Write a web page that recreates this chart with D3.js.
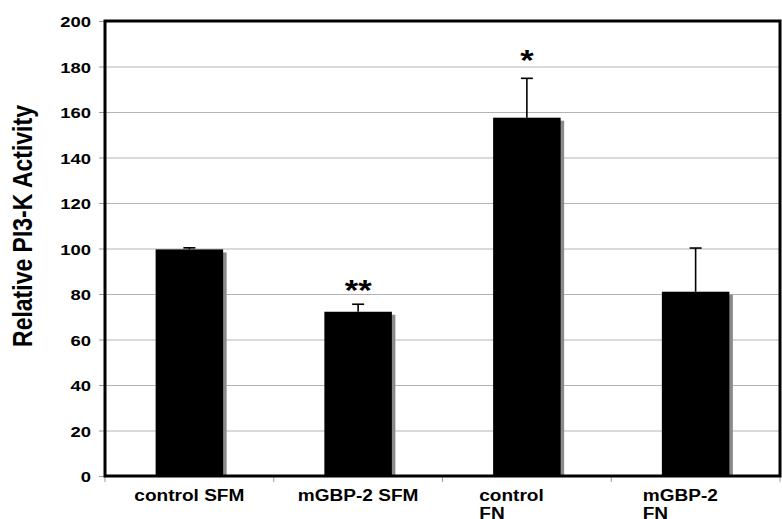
<!DOCTYPE html>
<meta charset="utf-8">
<html>
<head>
<style>
  body { margin: 0; background: #fff; }
  text { font-family: "Liberation Sans", Arial, Helvetica, sans-serif; font-weight: bold; fill: #000; }
</style>
</head>
<body>
<div id="chart"></div>
<script src="https://d3js.org/d3.v7.min.js"></script>
<script>

  // data
  var categories = ["control SFM", "mGBP-2 SFM", "control FN", "mGBP-2 FN"];
  var labelLines = [["control SFM"], ["mGBP-2 SFM"], ["control", "FN"], ["mGBP-2", "FN"]];
  var values = [99.6, 72.2, 157.5, 81.0];
  var errors = [0.7, 3.3, 17.3, 19.2];
  var stars = ["", "**", "*", ""];
  var starAt = [0, 77.4, 178.5, 0];
  var yTicks = [0, 20, 40, 60, 80, 100, 120, 140, 160, 180, 200];

  // the picture is a bit stretched sideways
  var sx = 1.19;

  var margin = {top: 21, right: 2, bottom: 43, left: 105},
      width = 782 - margin.left - margin.right,
      height = 519 - margin.top - margin.bottom;

  var svg = d3.select("#chart")
    .append("svg")
      .attr("width", 782)
      .attr("height", 519)
    .append("g")
      .attr("transform", "translate(" + margin.left + "," + margin.top + ")");

  var x = d3.scaleBand()
    .domain(categories)
    .range([0, width])
    .paddingInner(0.6)
    .paddingOuter(0.3);

  var y = d3.scaleLinear()
    .domain([0, 200])
    .range([height, 0]);

  // gridlines
  svg.append("g")
    .call(d3.axisLeft(y).tickValues(yTicks).tickSize(-width).tickFormat(""))
    .call(function(g) {
      g.select(".domain").remove();
      g.selectAll("line").attr("stroke", "#b4b4b4").attr("stroke-width", 1);
    });

  // y axis ticks + labels
  svg.append("g")
    .call(d3.axisLeft(y).tickValues(yTicks).tickSize(6).tickPadding(0))
    .call(function(g) {
      g.select(".domain").remove();
      g.selectAll("line").attr("stroke", "#999");
      g.selectAll("text")
        .attr("x", -14 / sx)
        .attr("dy", "0.36em")
        .attr("transform", "scale(" + sx + ",1)")
        .style("font-size", "15.5px");
    });

  // x axis tick marks at category boundaries
  var step = x.step();
  svg.append("g")
    .selectAll("line")
    .data(d3.range(categories.length + 1))
    .enter().append("line")
      .attr("x1", function(i) { return x.range()[0] + i * step; })
      .attr("x2", function(i) { return x.range()[0] + i * step; })
      .attr("y1", height)
      .attr("y2", height + 6)
      .attr("stroke", "#999");

  // bar shadows
  svg.selectAll(".shadow")
    .data(values)
    .enter().append("rect")
      .attr("class", "shadow")
      .attr("x", function(d, i) { return x(categories[i]) + 3.5; })
      .attr("y", function(d) { return y(d) + 3; })
      .attr("width", x.bandwidth())
      .attr("height", function(d) { return height - y(d) - 3; })
      .attr("fill", "#8a8a8a");

  // bars
  svg.selectAll(".bar")
    .data(values)
    .enter().append("rect")
      .attr("class", "bar")
      .attr("x", function(d, i) { return x(categories[i]); })
      .attr("y", function(d) { return y(d); })
      .attr("width", x.bandwidth())
      .attr("height", function(d) { return height - y(d); })
      .attr("fill", "#000");

  // error bars (upper only)
  var eb = svg.selectAll(".err")
    .data(values)
    .enter().append("g")
      .attr("class", "err")
      .attr("transform", function(d, i) { return "translate(" + (x(categories[i]) + x.bandwidth() / 2) + ",0)"; });
  eb.append("line")
    .attr("y1", function(d) { return y(d); })
    .attr("y2", function(d, i) { return y(d + errors[i]); })
    .attr("stroke", "#000")
    .attr("stroke-width", 1.6);
  eb.append("line")
    .attr("x1", -6).attr("x2", 6)
    .attr("y1", function(d, i) { return y(d + errors[i]); })
    .attr("y2", function(d, i) { return y(d + errors[i]); })
    .attr("stroke", "#000")
    .attr("stroke-width", 1.6);

  // significance stars
  svg.selectAll(".star")
    .data(stars)
    .enter().append("text")
      .attr("class", "star")
      .attr("text-anchor", "middle")
      .attr("transform", function(d, i) {
        return "translate(" + (x(categories[i]) + x.bandwidth() / 2) + "," + y(starAt[i]) + ") scale(" + sx + ",1)";
      })
      .style("font-size", "29px")
      .text(function(d) { return d; });

  // frame: thick black box
  svg.append("rect")
    .attr("x", 0).attr("y", 0)
    .attr("width", width).attr("height", height)
    .attr("fill", "none")
    .attr("stroke", "#000")
    .attr("stroke-width", 3);

  // x labels: whole label centred, then wrapped lines left aligned
  var labels = svg.append("g").selectAll("g")
    .data(categories)
    .enter().append("g");
  labels.each(function(c, i) {
    var g = d3.select(this);
    var cx = x(c) + x.bandwidth() / 2;
    var probe = g.append("text").style("font-size", "16px").text(c);
    var w = probe.node().getComputedTextLength() * sx;
    probe.remove();
    labelLines[i].forEach(function(line, k) {
      g.append("text")
        .attr("transform", "translate(" + (cx - w / 2) + "," + (height + 25 + k * 17.5) + ") scale(" + sx + ",1)")
        .style("font-size", "16px")
        .text(line);
    });
  });

  // y axis title
  d3.select("svg").append("text")
    .attr("text-anchor", "middle")
    .attr("transform", "translate(32,226) scale(" + sx + ",1) rotate(-90)")
    .style("font-size", "23px")
    .text("Relative PI3-K Activity");

</script>
</body>
</html>
